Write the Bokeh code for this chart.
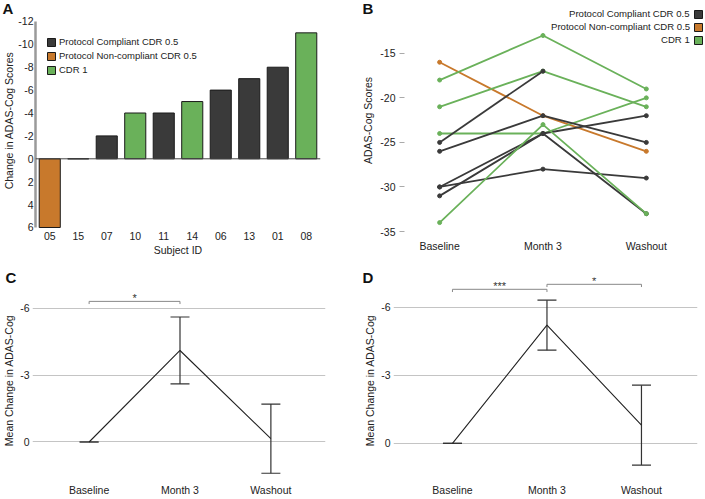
from bokeh.plotting import figure
from bokeh.models import (ColumnDataSource, FactorRange, Range1d, FixedTicker, Span,
                          Legend, LegendItem, Whisker, TeeHead)
from bokeh.layouts import column, row
from bokeh.core.properties import value
from bokeh.embed import file_html
from bokeh.resources import INLINE

FONT = "Liberation Sans"
AX_FS = "10.5px"
LEG_FS = "9.5px"

# ---------------- data ----------------
# Panel A: change in ADAS-Cog per subject
subjects = ["05", "15", "07", "10", "11", "14", "06", "13", "01", "08"]
change_a = [6, 0, -2, -4, -4, -5, -6, -7, -8, -11]
group_a = ["nc", "cdr1", "pc", "cdr1", "pc", "cdr1", "pc", "pc", "pc", "cdr1"]
group_keys = ["pc", "nc", "cdr1"]
group_names = ["Protocol Compliant CDR 0.5", "Protocol Non-compliant CDR 0.5", "CDR 1"]
group_colors = ["#3a3a3a", "#c8792c", "#6ab15a"]
ticks_a = [-12, -10, -8, -6, -4, -2, 0, 2, 4, 6]
tick_labels_a = ["-12", "-10", "-8", "-6", "-4", "-2", "0", "2", "4", "6"]

# Panel B: ADAS-Cog scores per subject at each timepoint
timepoints = ["Baseline", "Month 3", "Washout"]
baseline_b = [-16, -24, -30, -21, -26, -18, -30, -31, -25, -34]
month3_b = [-22, -24, -28, -17, -22, -13, -24, -24, -17, -23]
washout_b = [-26, -20, -29, -21, -25, -19, -22, -33, float("nan"), -33]
ticks_b = [-15, -20, -25, -30, -35]
tick_labels_b = ["-15", "-20", "-25", "-30", "-35"]

# Panel C / D: mean change with error
mean_c = [0, -4.1, -0.15]
err_c = [0, 1.5, 1.55]
sig_c = [(0, 1, "*", -6.3)]
mean_d = [0, -5.2, -0.8]
err_d = [0, 1.1, 1.76]
sig_d = [(0, 1, "***", -6.78), (1, 2, "*", -7.0)]
ticks_cd = [-6, -3, 0]
tick_labels_cd = ["-6", "-3", "0"]

panel_letters = ["A", "B", "C", "D"]
tp_x = list(range(len(timepoints)))


def style_axis(ax):
    ax.major_label_text_font = FONT
    ax.major_label_text_font_size = AX_FS
    ax.major_label_text_color = "#222222"
    ax.axis_label_text_font = FONT
    ax.axis_label_text_font_size = AX_FS
    ax.axis_label_text_font_style = "normal"
    ax.axis_label_text_color = "#222222"
    ax.minor_tick_line_color = None
    ax.major_tick_in = 0
    ax.major_tick_out = 0


def panel_title(p, text, offset, standoff):
    t = p.title
    t.text = text
    t.align = "left"
    t.vertical_align = "bottom"
    t.offset = offset
    t.standoff = standoff
    t.text_font = FONT
    t.text_font_size = "15px"
    t.text_font_style = "bold"
    t.text_color = "#111111"


def base_fig(w, h, xr, yr, bl, br, bt, bb):
    p = figure(width=w, height=h, x_range=xr, y_range=yr, output_backend="svg",
               toolbar_location=None, min_border_left=bl, min_border_right=br,
               min_border_top=bt, min_border_bottom=bb)
    p.outline_line_color = None
    p.xgrid.visible = False
    p.ygrid.visible = False
    style_axis(p.xaxis[0])
    style_axis(p.yaxis[0])
    return p


def make_legend(items, vx, vy, spacing, glyph_w=10, standoff=3, fs=LEG_FS):
    return Legend(items=items, location=(vx, vy), margin=0, padding=0,
                  glyph_width=glyph_w, glyph_height=10, label_height=10, spacing=spacing,
                  label_standoff=standoff, label_text_font=FONT, label_text_font_size=fs,
                  label_text_color="#222222", background_fill_alpha=0,
                  border_line_color=None, inactive_fill_alpha=0)


# ---------------- Panel A ----------------
pA = base_fig(350, 258, FactorRange(factors=subjects, range_padding=0), Range1d(6.35, -13.04),
              35, 30, 9, 26)
ren_a = {}
for key, color in zip(group_keys, group_colors):
    idx = [i for i, g in enumerate(group_a) if g == key]
    src = ColumnDataSource(dict(x=[subjects[i] for i in idx], top=[change_a[i] for i in idx]))
    ren_a[key] = pA.vbar(x="x", top="top", bottom=0, width=0.74, source=src,
                         fill_color=color, line_color="#1a1a1a", line_width=1)
pA.add_layout(Span(location=0, dimension="width", line_color="#444444", line_width=1))
ya = pA.yaxis[0]
ya.ticker = FixedTicker(ticks=ticks_a)
ya.major_label_overrides = dict(zip(ticks_a, tick_labels_a))
ya.bounds = (min(ticks_a), max(ticks_a))
ya.axis_line_color = "#9a9a9a"
ya.axis_line_width = 2.5
ya.major_tick_line_color = None
ya.major_label_standoff = 2
ya.axis_label = "Change in ADAS-Cog Scores"
ya.axis_label_standoff = 0
xa = pA.xaxis[0]
xa.axis_line_color = None
xa.major_tick_line_color = None
xa.major_label_standoff = 0
xa.axis_label = "Subject ID"
xa.axis_label_standoff = 1
pA.add_layout(make_legend([LegendItem(label=n, renderers=[ren_a[k]])
                           for k, n in zip(group_keys, group_names)], 11, 156, 3))
panel_title(pA, panel_letters[0], -33, -14)

# ---------------- Panel B ----------------
pB = base_fig(354, 258, Range1d(-0.340, 2.563), Range1d(-35.0, -10.08), 54, 0, 9, 26)
line_b = {}
for i in range(len(subjects)):
    color = group_colors[group_keys.index(group_a[i])]
    ys = [baseline_b[i], month3_b[i], washout_b[i]]
    r = pB.line(tp_x, ys, line_color=color, line_width=1.8)
    pB.scatter(tp_x, ys, size=4, fill_color=color, line_color=color)
    line_b.setdefault(group_a[i], r)
# legend-only swatch renderers (hidden), built from each group's baseline values
swatch_b = {}
for key, color in zip(group_keys, group_colors):
    vals = [baseline_b[i] for i, g in enumerate(group_a) if g == key]
    swatch_b[key] = pB.vbar(x=[tp_x[0]] * len(vals), top=vals, width=0.1, fill_color=color,
                            line_color="#1a1a1a", line_width=1, visible=False)
yb = pB.yaxis[0]
yb.ticker = FixedTicker(ticks=ticks_b)
yb.major_label_overrides = dict(zip(ticks_b, tick_labels_b))
yb.axis_line_color = None
yb.major_tick_out = 5
yb.major_tick_line_color = "#aaaaaa"
yb.major_label_standoff = 4
yb.axis_label = "ADAS-Cog Scores"
yb.axis_label_standoff = 3
xb = pB.xaxis[0]
xb.ticker = FixedTicker(ticks=tp_x)
xb.major_label_overrides = dict(zip(tp_x, timepoints))
xb.axis_line_color = None
xb.major_tick_line_color = None
xb.major_label_standoff = 8
# right-aligned legend texts (one legend per row) + swatch column at the right
text_w_b = [121, 139, 29]
row_vy_b = [212, 199, 186]
for k, n, w, vy in zip(group_keys, group_names, text_w_b, row_vy_b):
    pB.add_layout(make_legend([LegendItem(label=n, renderers=[line_b[k]])],
                              286 - w, vy, 0, glyph_w=0, standoff=0, fs="9.6px"))
pB.add_layout(make_legend([LegendItem(label="", renderers=[swatch_b[k]]) for k in group_keys],
                          289, 186, 3, standoff=0))
panel_title(pB, panel_letters[1], -42, -14)


# ---------------- Panels C / D ----------------
def mean_panel(w, xr, yr, bl, br, means, errs, sigs):
    p = base_fig(w, 240, xr, yr, bl, br, 19, 14)
    src = ColumnDataSource(dict(x=tp_x, m=means,
                                lo=[m - e for m, e in zip(means, errs)],
                                hi=[m + e for m, e in zip(means, errs)]))
    p.line("x", "m", source=src, line_color="#222222", line_width=1.1)
    p.add_layout(Whisker(base="x", upper="hi", lower="lo", source=src, dimension="height",
                         line_color="#333333", line_width=1.2,
                         upper_head=TeeHead(size=19, line_color="#333333", line_width=1.2),
                         lower_head=TeeHead(size=19, line_color="#333333", line_width=1.2)))
    for i0, i1, stars, lev in sigs:
        p.line([i0, i0, i1, i1], [lev + 0.12, lev, lev, lev + 0.12], line_color="#888888", line_width=1)
        p.text(x=[(i0 + i1) / 2], y=[lev], text=[stars], text_align="center", text_baseline="middle",
               text_font=value(FONT), text_font_size="11px", text_color="#333333", y_offset=-3)
    ya_ = p.yaxis[0]
    ya_.ticker = FixedTicker(ticks=ticks_cd)
    ya_.major_label_overrides = dict(zip(ticks_cd, tick_labels_cd))
    ya_.axis_line_color = None
    ya_.major_tick_line_color = None
    ya_.major_label_standoff = 3
    ya_.axis_label = "Mean Change in ADAS-Cog"
    ya_.axis_label_standoff = 2
    p.ygrid.visible = True
    p.ygrid.ticker = FixedTicker(ticks=ticks_cd)
    p.ygrid.grid_line_color = "#c4c4c4"
    p.ygrid.grid_line_width = 1.2
    xa_ = p.xaxis[0]
    xa_.ticker = FixedTicker(ticks=tp_x)
    xa_.major_label_overrides = dict(zip(tp_x, timepoints))
    xa_.axis_line_color = None
    xa_.major_tick_line_color = None
    xa_.major_label_standoff = 0
    return p


pC = mean_panel(350, Range1d(-0.623, 2.601), Range1d(1.86, -7.37), 30, 25, mean_c, err_c, sig_c)
panel_title(pC, panel_letters[2], -27, -17)
pD = mean_panel(354, Range1d(-0.624, 2.593), Range1d(1.77, -7.30), 43, 7, mean_d, err_d, sig_d)
panel_title(pD, panel_letters[3], -31, -17)

layout = column(row(pA, pB), row(pC, pD))
open("out.html", "w").write(file_html(layout, INLINE))
